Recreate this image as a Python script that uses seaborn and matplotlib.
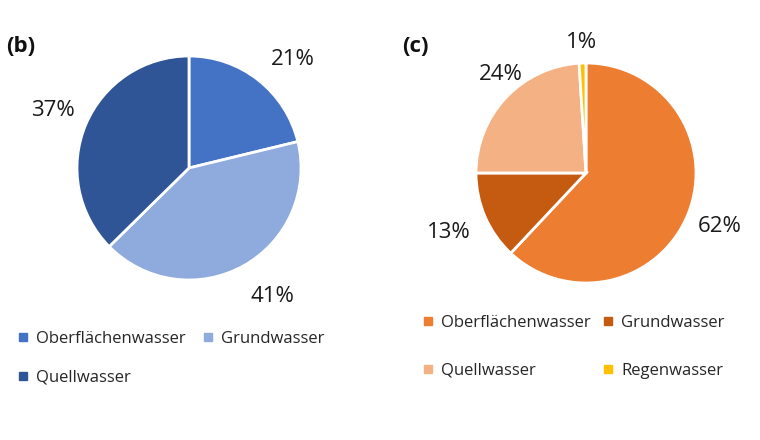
import numpy as np
import seaborn as sns
import matplotlib
matplotlib.use("Agg")
import matplotlib.pyplot as plt
from matplotlib.lines import Line2D

# data
labels_b = ["Oberflächenwasser", "Grundwasser", "Quellwasser"]
values_b = [21, 41, 37]
labels_c = ["Oberflächenwasser", "Grundwasser", "Quellwasser", "Regenwasser"]
values_c = [62, 13, 24, 1]

colors_b = ["#4472C4", "#8FAADC", "#2F5597"]
colors_c = ["#ED7D31", "#C55A11", "#F4B183", "#FFC000"]

sns.set_theme(style="white")
plt.rcParams['font.family'] = ['Open Sans', 'DejaVu Sans']

W, H = 760, 440
fig = plt.figure(figsize=(7.6, 4.4), dpi=100)


def make_pie(cx, cy, r, values, colors, dist, turn, tag, tagpos):
    # axes placed so one data unit = r pixels, pie centred on (cx, cy) px
    box_w, box_h = 2 * 180, 2 * 160
    ax = fig.add_axes([(cx - box_w / 2) / W, (H - cy - box_h / 2) / H, box_w / W, box_h / H])
    wedges, texts, autotexts = ax.pie(values, colors=colors, startangle=90, counterclock=False,
                                      autopct='%.0f%%', pctdistance=1.0,
                                      wedgeprops=dict(edgecolor='white', linewidth=2),
                                      textprops=dict(fontsize=16, color='#1a1a1a'))
    # push the labels outward (and nudge them round a bit, like the original)
    for t, f, a in zip(autotexts, dist, turn):
        x, y = t.get_position()
        ang = np.arctan2(y, x) + np.radians(a)
        t.set_position((f * np.cos(ang), f * np.sin(ang)))
    ax.set_xlim(-box_w / 2 / r, box_w / 2 / r)
    ax.set_ylim(-box_h / 2 / r, box_h / 2 / r)
    ax.set_aspect('auto')
    ax.axis('off')
    fig.text(tagpos[0] / W, 1 - tagpos[1] / H, tag, fontsize=16, fontweight='bold',
             ha='left', va='center', color='#111111')
    return ax


make_pie(189, 168, 112, values_b, colors_b, [1.34, 1.37, 1.32], [-5.5, 4, 0], "(b)", (6, 46))
make_pie(586, 173, 110, values_c, colors_c, [1.31, 1.36, 1.18, 1.19], [0, 0, -6, 0], "(c)", (402, 46))


def legend(labels, colors, x0, y0, dx, dy):
    handles = [Line2D([], [], marker='s', linestyle='none', markersize=6, color=c) for c in colors]
    # matplotlib fills columns first; reorder so entries read row by row
    order = list(range(0, len(labels), 2)) + list(range(1, len(labels), 2))
    fig.legend([handles[i] for i in order], [labels[i] for i in order],
               loc='upper left', ncol=2, frameon=False,
               bbox_to_anchor=(x0 / W, 1 - y0 / H), fontsize=12,
               handlelength=0.6, handletextpad=0.5, columnspacing=dx, labelspacing=dy,
               borderaxespad=0, borderpad=0)


legend(labels_b, colors_b, 18, 331, 1.0, 1.35)
legend(labels_c, colors_c, 423, 315, 0.7, 1.9)

plt.savefig("out.png", dpi=100)
